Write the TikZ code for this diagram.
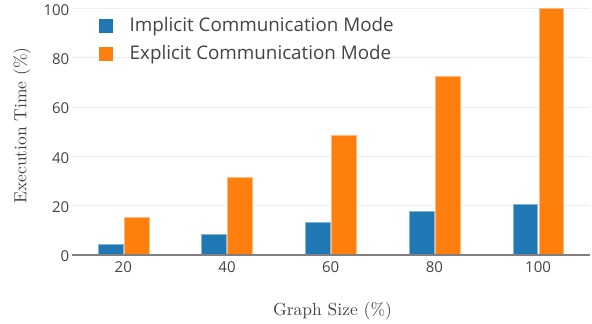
\documentclass[tikz,border=0pt]{standalone}
\usepackage{fontspec}
\newfontfamily\osans{Open Sans}
\newfontfamily\cmten[Extension=.otf]{lmroman10-regular}
\definecolor{impl}{HTML}{1F77B4}
\definecolor{expl}{HTML}{FF7F0E}
\definecolor{txt}{HTML}{444444}
\definecolor{gridc}{HTML}{EEEEEE}
\definecolor{zeroc}{HTML}{808080}
\tikzset{
  gridline/.style={draw=gridc, line width=1pt},
  zeroline/.style={draw=zeroc, line width=1.6pt},
  implbar/.style={fill=impl, draw=impl!55!white, line width=0.6pt},
  explbar/.style={fill=expl, draw=expl!55!white, line width=0.6pt},
  ticklab/.style={font=\osans\fontsize{15}{15}\selectfont, text=txt, inner sep=0pt},
  leglab/.style={font=\osans\fontsize{18.8}{18.8}\selectfont, text=txt, inner sep=0pt, anchor=base west},
  axtitle/.style={font=\cmten\fontsize{17.5}{17.5}\selectfont, text=txt, inner sep=0pt},
}
\begin{document}
\begin{tikzpicture}[x=1pt,y=-1pt]
\useasboundingbox (0,0) rectangle (592,324);
\fill[white] (0,0) rectangle (592,324);
% grid
\foreach \v in {20,40,60,80,100}{
  \draw[gridline] (72,{255-2.465*\v}) -- (590,{255-2.465*\v});
}
% bars
\foreach \c/\a/\b in {123.3/4.3/15.3, 227/8.4/31.5, 330.7/13.1/48.4, 434.4/17.6/72.6, 538.1/20.7/100}{
  \path[implbar] ({\c-25.3},255) rectangle ({\c-0.5},{255-2.465*\a});
  \path[explbar] ({\c+0.7},255) rectangle ({\c+25.5},{255-2.465*\b});
}
% zero line
\draw[zeroline] (72,255) -- (590,255);
% y tick labels
\foreach \v in {0,20,40,60,80,100}{
  \node[ticklab, anchor=east] (yt\v) at (69.5,{256.5-2.465*\v}) {\v};
}
% x tick labels
\foreach \c/\l in {123.3/20, 227/40, 330.7/60, 434.4/80, 538.1/100}{
  \node[ticklab] (xt\l) at (\c,267.5) {\l};
}
% legend
\path[fill=impl] (99,19) rectangle (113,33);
\path[fill=expl] (99,47) rectangle (113,61);
\node[leglab] (leg1) at (129.5,31.7) {Implicit Communication Mode};
\node[leglab] (leg2) at (129.5,59.5) {Explicit Communication Mode};
% axis titles
\node[axtitle, rotate=90] (ytitle) at (22,125.5) {Execution Time (\%)};
\node[axtitle] (xtitle) at (332.5,311.5) {Graph Size (\%)};
\end{tikzpicture}
\end{document}
